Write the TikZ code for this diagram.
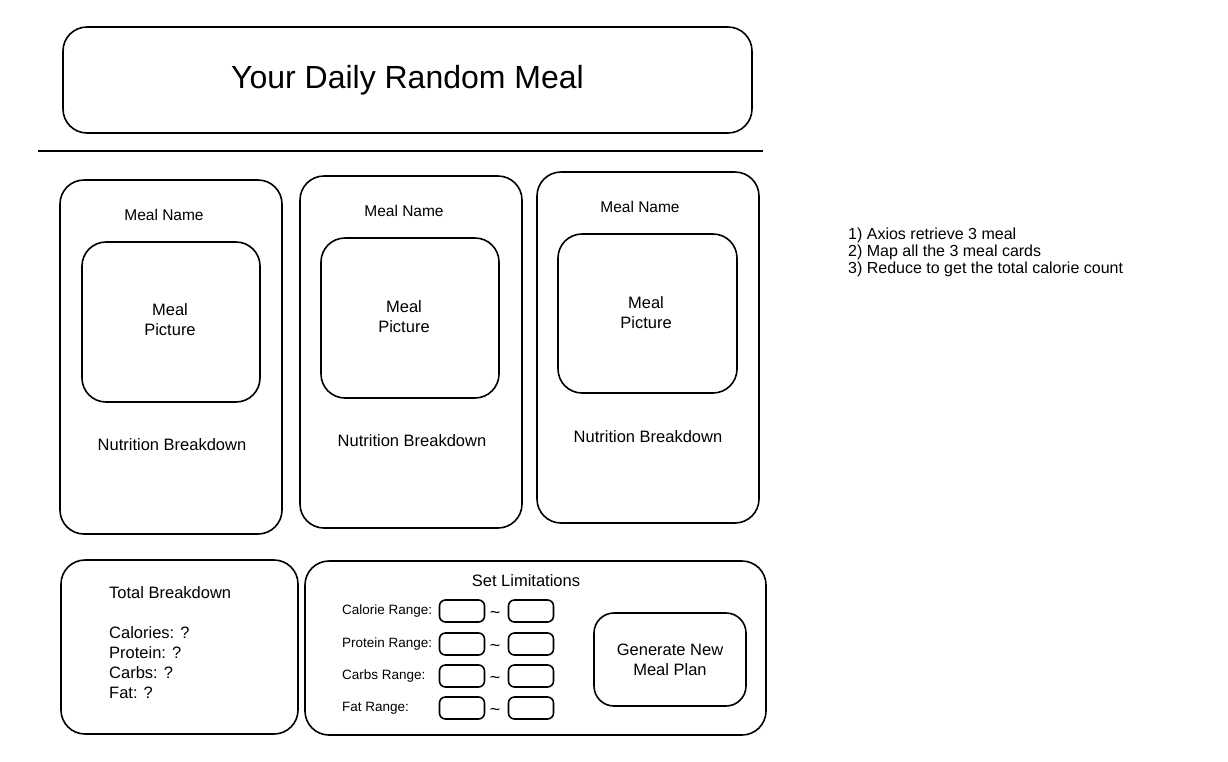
\documentclass[tikz,border=0pt]{standalone}
\usepackage{fontspec}
\setmainfont{Liberation Sans}
\usetikzlibrary{positioning}

\begin{document}
\begin{tikzpicture}[
    x=1pt, y=-1pt,
    panel/.style={draw, line width=1.6pt, rounded corners=24pt, inner sep=0pt},
    field/.style={draw, line width=1.6pt, rounded corners=6pt, minimum width=45pt, minimum height=22pt, inner sep=0pt},
    txt/.style={font=\fontsize{16.5}{20}\selectfont, align=center, inner sep=0pt},
    small/.style={font=\fontsize{13.5}{16}\selectfont, inner sep=0pt}
]
\useasboundingbox (0,0) rectangle (1228,761);

% header
\node[panel, minimum width=689pt, minimum height=106pt] (header) at (407.5,80) {};
\node[inner sep=0pt, font=\fontsize{32}{38}\selectfont] (title) at (header.center) {Your Daily Random Meal};
\coordinate (rule-l) at (38,151);
\coordinate (rule-r) at (763,151);
\draw[line width=1.8pt] (rule-l) -- (rule-r);

% meal cards
\node[panel, minimum width=222pt, minimum height=354pt] (card1) at (171,357) {};
\node[panel, minimum width=222pt, minimum height=352pt] (card2) at (411,352) {};
\node[panel, minimum width=222pt, minimum height=351pt] (card3) at (648,347.5) {};
\node[panel, minimum width=178pt, minimum height=160pt] (pic1) at (171,322) {};
\node[panel, minimum width=178pt, minimum height=160pt] (pic2) at (410,318) {};
\node[panel, minimum width=179pt, minimum height=159pt] (pic3) at (647.5,313.5) {};
\node[txt, font=\fontsize{15.5}{20}\selectfont] (name1) at (164,215) {Meal Name};
\node[txt, font=\fontsize{15.5}{20}\selectfont] (name2) at (404,211) {Meal Name};
\node[txt, font=\fontsize{15.5}{20}\selectfont] (name3) at (640,207) {Meal Name};
\node[txt] (pictxt1) at (170,320) {Meal\\Picture};
\node[txt] (pictxt2) at (404,317) {Meal\\Picture};
\node[txt] (pictxt3) at (646,313) {Meal\\Picture};
\node[txt] (nutri1) at (172,445) {Nutrition Breakdown};
\node[txt] (nutri2) at (412,441) {Nutrition Breakdown};
\node[txt] (nutri3) at (648,437) {Nutrition Breakdown};

% totals
\node[panel, minimum width=237pt, minimum height=174pt] (totals) at (179.5,647) {};
\node[txt, align=left, anchor=north west] (totaltxt) at (109,586) {Total Breakdown\\[20pt]Calories: ?\\Protein: ?\\Carbs: ?\\Fat: ?};

% limitations
\node[panel, minimum width=461pt, minimum height=174pt] (limits) at (535.5,648) {};
\node[txt] (limtitle) at (526,581) {Set Limitations};
\foreach \lbl/\y [count=\i] in {Calorie Range:/611, Protein Range:/644, Carbs Range:/676, Fat Range:/708} {
    \node[small, anchor=west] (lbl\i) at (342,\y) {\lbl};
    \node[field] (lo\i) at (462,\y) {};
    \node[field] (hi\i) at (531,\y) {};
    \node[small, font=\fontsize{18}{18}\selectfont] (tilde\i) at (495,\y+3.5) {\textasciitilde};
}
\node[panel, rounded corners=20pt, minimum width=152pt, minimum height=93pt] (generate) at (670,659.5) {};
\node[txt] (gentxt) at (generate.center) {Generate New\\Meal Plan};

% notes
\node[small, align=left, anchor=north west, font=\fontsize{16}{17}\selectfont] (notes) at (848,228) {1) Axios retrieve 3 meal\\2) Map all the 3 meal cards\\3) Reduce to get the total calorie count};
\end{tikzpicture}
\end{document}
